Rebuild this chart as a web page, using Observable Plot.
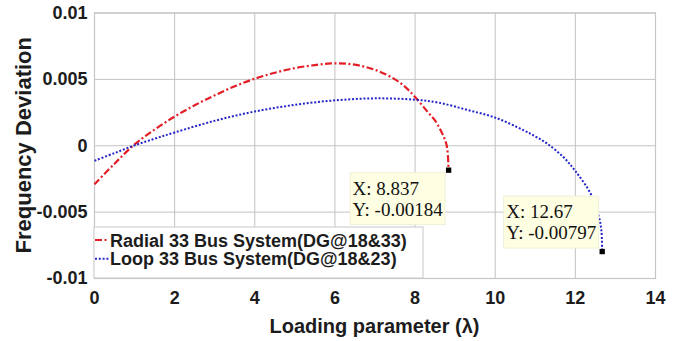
<!DOCTYPE html>
<html>
<head>
<meta charset="utf-8">
<script src="https://cdn.jsdelivr.net/npm/d3@7"></script>
<script src="https://cdn.jsdelivr.net/npm/@observablehq/plot@0.6"></script>
<style>
  html, body { margin: 0; padding: 0; background: #ffffff; }
  #chart { width: 683px; height: 341px; }
</style>
</head>
<body>
<div id="chart"></div>
<script>
// Frequency deviation against the loading parameter for two 33-bus configurations.
const seriesNames = ["Radial 33 Bus System(DG@18&33)", "Loop 33 Bus System(DG@18&23)"];

const radialX = [0, 0.5, 1, 1.5, 2, 2.5, 3, 3.5, 4, 4.5, 5, 5.5, 5.9, 6.3, 6.7, 7.1, 7.5, 7.8, 8.05, 8.3, 8.5, 8.65, 8.74, 8.79, 8.82, 8.837];
const radialY = [-0.0029, -0.00135, 0.0001, 0.00122, 0.0022, 0.00305, 0.0038, 0.00448, 0.00505, 0.0055, 0.00585, 0.00608, 0.0062, 0.00618, 0.00598, 0.0056, 0.005, 0.0043, 0.0035, 0.0026, 0.0019, 0.0011, 0.0005, 0.0, -0.0008, -0.00184];

const loopX = [0, 0.5, 1, 1.5, 2, 3, 4, 5, 6, 7, 8, 8.6, 9.3, 10, 10.7, 11.0, 11.3, 11.7, 12.0, 12.38, 12.5, 12.6, 12.65, 12.67];
const loopY = [-0.00113, -0.00055, 0.00003, 0.00053, 0.001, 0.00188, 0.00258, 0.00308, 0.00342, 0.00357, 0.00347, 0.00324, 0.0027, 0.00212, 0.00118, 0.0007, 0.00015, -0.00085, -0.0019, -0.0036, -0.0046, -0.0055, -0.0064, -0.00797];

// Data tips at the end of each curve
const tipX = [8.837, 12.67];
const tipY = [-0.00184, -0.00797];
const tipXText = ["8.837", "12.67"];
const tipYText = ["-0.00184", "-0.00797"];

const xTicks = [0, 2, 4, 6, 8, 10, 12, 14];
const xTickLabels = ["0", "2", "4", "6", "8", "10", "12", "14"];
const yTicks = [-0.01, -0.005, 0, 0.005, 0.01];
const yTickLabels = ["-0.01", "-0.005", "0", "0.005", "0.01"];

const xTitle = "Loading parameter (λ)";
const yTitle = "Frequency Deviation";

// Styling
const seriesStyle = [
  {stroke: "#e41e26", dash: "7,2.5,2,2.5"},
  {stroke: "#2424c8", dash: "2,1.8"}
];
const tipPlacement = ["below", "above"];
const sansFont = "'Liberation Sans', Arial, Helvetica, sans-serif";
const serifFont = "'Liberation Serif', 'Times New Roman', serif";
const textColor = "#1c1c1c";

const radial = radialX.map((x, i) => ({x, y: radialY[i]}));
const loop = loopX.map((x, i) => ({x, y: loopY[i]}));
const tips = tipX.map((x, i) => ({x, y: tipY[i], xs: tipXText[i], ys: tipYText[i], place: tipPlacement[i]}));

const xLabel = new Map(xTicks.map((t, i) => [t, xTickLabels[i]]));
const yLabel = new Map(yTicks.map((t, i) => [t, yTickLabels[i]]));

// Legend box in the lower-left corner of the frame
function legendMark(index, scales, values, dim) {
  const g = d3.create("svg:g").attr("text-anchor", "start");
  const left = dim.marginLeft;
  const bottom = dim.height - dim.marginBottom;
  const w = 329, h = 51;
  g.append("rect")
    .attr("x", left).attr("y", bottom - h)
    .attr("width", w).attr("height", h)
    .attr("fill", "#ffffff").attr("stroke", "#c8c8c8").attr("stroke-width", 1);
  seriesNames.forEach((name, i) => {
    const cy = bottom - 38 + i * 18.7;
    g.append("line")
      .attr("x1", left + 1).attr("x2", left + 15)
      .attr("y1", cy).attr("y2", cy)
      .attr("stroke", seriesStyle[i].stroke)
      .attr("stroke-width", 2)
      .attr("stroke-linecap", "butt")
      .attr("stroke-dasharray", seriesStyle[i].dash);
    g.append("text")
      .attr("x", left + 16).attr("y", cy).attr("dy", "0.37em")
      .attr("text-anchor", "start")
      .attr("font-family", sansFont).attr("font-weight", "bold")
      .attr("font-size", 18).attr("fill", textColor)
      .text(name);
  });
  return g.node();
}

// Data-tip boxes anchored at each curve's last point
function tipMark(index, scales) {
  const g = d3.create("svg:g").attr("text-anchor", "start");
  const bw = 95, bh = 52;
  tips.forEach(t => {
    const px = scales.x(t.x), py = scales.y(t.y);
    const bx = px - 3 - bw;
    const by = t.place === "below" ? py + 3 : py - 3 - bh;
    g.append("rect")
      .attr("x", bx).attr("y", by).attr("width", bw).attr("height", bh)
      .attr("fill", "#fefee3").attr("stroke", "#ecebd2").attr("stroke-width", 0.8);
    [["X: ", t.xs], ["Y: ", t.ys]].forEach(([k, v], j) => {
      g.append("text")
        .attr("x", bx + 2.5).attr("y", by + 22 + j * 21)
        .attr("text-anchor", "start")
        .attr("font-family", serifFont).attr("font-size", 19)
        .attr("fill", "#111111")
        .text(k + v);
    });
  });
  return g.node();
}

// Axis titles: y title rotated at the left, x title centred under the frame
function titleMark(index, scales, values, dim) {
  const g = d3.create("svg:g")
    .attr("font-family", sansFont).attr("font-weight", "bold")
    .attr("fill", textColor).attr("text-anchor", "middle");
  const midX = (dim.marginLeft + dim.width - dim.marginRight) / 2;
  const midY = (dim.marginTop + dim.height - dim.marginBottom) / 2;
  g.append("text")
    .attr("transform", `translate(${dim.marginLeft - 71},${midY}) rotate(-90)`)
    .attr("dy", "0.36em").attr("font-size", 22)
    .text(yTitle);
  g.append("text")
    .attr("x", midX).attr("y", dim.height - dim.marginBottom + 55)
    .attr("font-size", 20)
    .text(xTitle);
  return g.node();
}

const chart = Plot.plot({
  width: 683,
  height: 341,
  marginLeft: 94,
  marginRight: 28,
  marginTop: 12.5,
  marginBottom: 63,
  style: {fontFamily: sansFont, background: "#ffffff", overflow: "visible"},
  x: {domain: [0, 14]},
  y: {domain: [-0.01, 0.01]},
  marks: [
    Plot.gridX(xTicks, {stroke: "#c3c3c3", strokeOpacity: 1, strokeWidth: 1}),
    Plot.gridY(yTicks, {stroke: "#c3c3c3", strokeOpacity: 1, strokeWidth: 1}),
    Plot.frame({stroke: "#c6c6c6", strokeWidth: 1.2}),
    Plot.axisX(xTicks, {
      tickSize: 0, tickPadding: 13, fontSize: 18, fontWeight: "bold",
      color: textColor, label: null, tickFormat: d => xLabel.get(d)
    }),
    Plot.axisY(yTicks, {
      tickSize: 0, tickPadding: 7, fontSize: 18, fontWeight: "bold",
      color: textColor, label: null, tickFormat: d => yLabel.get(d)
    }),
    Plot.line(radial, {
      x: "x", y: "y", stroke: seriesStyle[0].stroke, strokeWidth: 2.2,
      strokeDasharray: seriesStyle[0].dash, strokeLinecap: "butt", curve: "catmull-rom"
    }),
    Plot.line(loop, {
      x: "x", y: "y", stroke: seriesStyle[1].stroke, strokeWidth: 2,
      strokeDasharray: seriesStyle[1].dash, strokeLinecap: "butt", curve: "catmull-rom"
    }),
    legendMark,
    tipMark,
    Plot.dot(tips, {x: "x", y: "y", symbol: "square", fill: "#000000", r: 3}),
    titleMark
  ]
});

document.getElementById("chart").appendChild(chart);
</script>
</body>
</html>
